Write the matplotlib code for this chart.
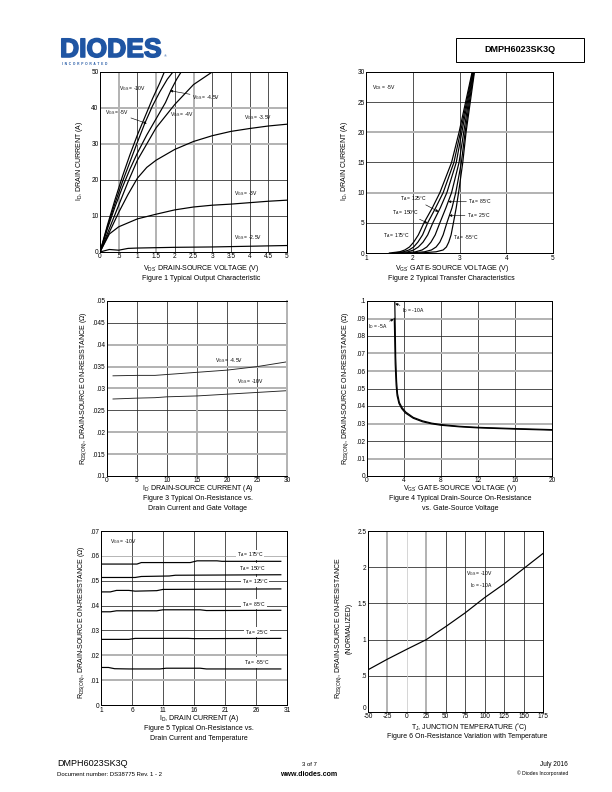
import matplotlib
matplotlib.use("Agg")
import matplotlib.pyplot as plt
import matplotlib.patheffects as pe
from matplotlib.patches import Rectangle

plt.rcParams["font.family"] = ["Liberation Sans", "DejaVu Sans"]
plt.rcParams["mathtext.default"] = "regular"
plt.rcParams["axes.unicode_minus"] = False

W, H = 612, 792

# ---------------- data ----------------
# Figure 1: output characteristic (VDS vs ID)
f1_curves = {
    "-10V": ([0, .2, .4, .6, .8, 1.0, 1.2, 1.4, 1.6, 1.72],
             [0, 7.5, 14.5, 21, 27, 32.5, 37.5, 42.5, 47, 50]),
    "-5V": ([0, .2, .4, .6, .8, 1.0, 1.2, 1.4, 1.6, 1.8, 1.95],
            [0, 7, 13.5, 19.5, 25, 30.5, 35.8, 40.5, 44.5, 48, 50]),
    "-4.5V": ([0, .2, .4, .6, .8, 1.0, 1.25, 1.5, 1.75, 1.9, 2.05, 2.17],
              [0, 6.5, 12.5, 18, 23, 27.5, 32.5, 37, 41.5, 45, 48, 50]),
    "-4V": ([0, .25, .5, .75, 1, 1.5, 2, 2.5, 3],
            [0, 6.5, 13, 19.5, 25.5, 34.5, 41, 46.5, 50]),
    "-3.5V": ([0, .25, .5, .75, 1, 1.25, 1.5, 2, 2.5, 3, 3.5, 4, 4.5, 5],
              [0, 5.5, 11, 16, 20.5, 23.5, 25.5, 28.5, 30.7, 32.3, 33.5, 34.3, 35, 35.5]),
    "-3V": ([0, .25, .5, 1, 1.5, 2, 2.5, 3, 3.5, 4, 4.5, 5],
            [0, 5, 7, 9.2, 10.5, 11.7, 12.5, 13, 13.3, 13.7, 14.1, 14.4]),
    "-2.5V": ([0, .25, .5, .75, 1, 2, 3, 4, 5],
              [0, 0.7, 0.5, 1.0, 1.1, 1.3, 1.4, 1.6, 1.8]),
}

# Figure 2: transfer characteristic (VGS vs ID)
f2_id = [0, 0.2, 0.5, 1.0, 1.8, 3.0, 5, 7.5, 10, 15, 20, 25, 30]
f2_curves = {
    "175": [1.50, 1.72, 1.83, 1.93, 2.02, 2.12, 2.24, 2.42, 2.58, 2.83, 2.99, 3.13, 3.27],
    "150": [1.58, 1.80, 1.92, 2.02, 2.11, 2.21, 2.32, 2.49, 2.65, 2.88, 3.02, 3.15, 3.28],
    "125": [1.66, 1.90, 2.02, 2.12, 2.22, 2.32, 2.43, 2.59, 2.73, 2.93, 3.05, 3.17, 3.29],
    "85": [1.80, 2.06, 2.20, 2.30, 2.39, 2.48, 2.58, 2.71, 2.83, 2.99, 3.09, 3.19, 3.30],
    "25": [1.95, 2.25, 2.40, 2.50, 2.58, 2.65, 2.73, 2.84, 2.92, 3.04, 3.12, 3.21, 3.31],
    "-55": [2.15, 2.50, 2.65, 2.72, 2.77, 2.82, 2.87, 2.93, 2.98, 3.07, 3.14, 3.23, 3.32],
}

# Figure 3: RDS(on) vs ID for two gate voltages
f3_id = [1, 5, 8, 10, 15, 20, 25, 30]
f3_r45 = [.0329, .0330, .0330, .0332, .0337, .0342, .0350, .0361]
f3_r10 = [.0276, .0278, .0279, .0281, .0283, .0287, .0291, .0295]

# Figure 4: RDS(on) vs VGS
f4_v10 = [3.0, 3.05, 3.1, 3.2, 3.3, 3.5, 3.8, 4.2, 5, 6, 7, 8, 10, 12, 16, 20]
f4_r10 = [.1, .085, .068, .054, .047, .042, .039, .0365, .0335, .0315, .0302,
          .0294, .0284, .0278, .0271, .0265]
f4_v5 = [2.95, 3.0, 3.05, 3.15, 3.25, 3.45, 3.75, 4.15, 5, 6, 7, 8, 10, 12, 16, 20]
f4_r5 = [.09, .078, .064, .052, .046, .0415, .0385, .036, .033, .031, .0298,
         .029, .0281, .0275, .0268, .0262]

# Figure 5: RDS(on) vs ID at temperatures
f5_curves = {
    "175": ([1, 6.8, 7.5, 15.4, 16.5, 19.7, 20.5, 30],
            [.0567, .0567, .0573, .0573, .0580, .0580, .0578, .0578]),
    "150": ([1, 6.5, 7.5, 12, 13, 30],
            [.0513, .0513, .0517, .0519, .0522, .0524]),
    "125": ([1, 2.5, 3.5, 5.5, 6.5, 10, 11, 30],
            [.0455, .0455, .0461, .0461, .0458, .0460, .0465, .0467]),
    "85": ([1, 2.5, 3.5, 10, 11, 17, 18, 30],
           [.0375, .0375, .0379, .0379, .0383, .0383, .0380, .0381]),
    "25": ([1, 5.5, 6.5, 15, 16, 30],
           [.0264, .0264, .0268, .0268, .0267, .0268]),
    "-55": ([1, 2.2, 3.2, 5.5, 10.5, 11.5, 17, 18, 30],
            [.0151, .0151, .0146, .0145, .0145, .0148, .0148, .0145, .0145]),
}

# Figure 6: normalized RDS(on) vs junction temperature
f6_t = [-50, -25, 0, 25, 50, 75, 100, 125, 150, 175]
f6_r = [0.583, 0.73, 0.867, 1.0, 1.18, 1.37, 1.58, 1.77, 1.98, 2.19]

# ---------------- helpers ----------------
fig = plt.figure(figsize=(W / 72, H / 72), dpi=72)
fig.patch.set_facecolor("white")

DARK = "#2b2b2b"
LIGHT = "#b4b4b4"


def make_ax(left, right, top, bottom):
    ax = fig.add_axes([left / W, 1 - bottom / H, (right - left) / W, (bottom - top) / H])
    for s in ax.spines.values():
        s.set_linewidth(1.0)
        s.set_color("black")
    ax.tick_params(length=0, labelsize=6.5, pad=1.5)
    return ax


def grid(ax, vdark=(), vlight=(), hdark=(), hlight=()):
    for v in vlight:
        ax.axvline(v, color=LIGHT, lw=2.0, zorder=0)
    for v in vdark:
        ax.axvline(v, color=DARK, lw=0.8, zorder=0)
    for h in hlight:
        ax.axhline(h, color=LIGHT, lw=2.0, zorder=0)
    for h in hdark:
        ax.axhline(h, color=DARK, lw=0.8, zorder=0)


def ftext(x, y, s, **kw):
    kw.setdefault("fontsize", 7)
    fig.text(x / W, 1 - y / H, s, **kw)


ARW = dict(arrowstyle="-|>", lw=0.6, color="black", mutation_scale=5,
           shrinkA=0, shrinkB=0)
LBL = 5

# ---------------- header ----------------
ftext(60, 57, "DIODES", fontsize=26.5, fontweight="bold", color="#1f55a3",
      va="baseline", ha="left",
      path_effects=[pe.withStroke(linewidth=1.6, foreground="#1f55a3")])
ftext(164, 57, "®", fontsize=4, color="#1f55a3", va="baseline")
ftext(62, 64, "I  N  C  O  R  P  O  R  A  T  E  D", fontsize=3.3,
      fontweight="bold", color="#1f55a3", va="center")
fig.patches.append(Rectangle((456 / W, 1 - 62 / H), 128 / W, 24 / H,
                             transform=fig.transFigure, fill=False,
                             edgecolor="black", lw=1.0))
ftext(520, 50, "DMPH6023SK3Q", fontsize=9, fontweight="bold",
      ha="center", va="center")

# ---------------- Figure 1 ----------------
ax = make_ax(100, 287, 72, 252)
grid(ax, vdark=[1, 2, 3, 3.5, 4, 4.5], vlight=[.5, 1.5, 2.5],
     hdark=[10, 20], hlight=[30, 40])
for xs, ys in f1_curves.values():
    ax.plot(xs, ys, color="black", lw=1.2)
ax.set_xlim(0, 5)
ax.set_ylim(0, 50)
ax.set_xticks([0, .5, 1, 1.5, 2, 2.5, 3, 3.5, 4, 4.5, 5])
ax.set_xticklabels(["0", ".5", "1", "1.5", "2", "2.5", "3", "3.5", "4", "4.5", "5"])
ax.set_yticks([0, 10, 20, 30, 40, 50])
ax.text(0.52, 45.4, "V$_{GS}$ = -10V", fontsize=LBL, va="center")
ax.annotate("V$_{GS}$ = -5V", xy=(1.25, 35.7), xytext=(0.13, 38.6),
            fontsize=LBL, va="center", arrowprops=ARW)
ax.annotate("V$_{GS}$ = -4.5V", xy=(1.875, 44.8), xytext=(2.46, 43.0),
            fontsize=LBL, va="center", arrowprops=ARW)
ax.text(1.875, 38.2, "V$_{GS}$ = -4V", fontsize=LBL, va="center")
ax.text(3.84, 37.3, "V$_{GS}$ = -3.5V", fontsize=LBL, va="center")
ax.text(3.57, 16.2, "V$_{GS}$ = -3V", fontsize=LBL, va="center")
ax.text(3.57, 4.0, "V$_{GS}$ = -2.5V", fontsize=LBL, va="center")
ftext(79, 161, "I$_D$, DRAIN CURRENT (A)", rotation=90, ha="center", va="center")
ftext(201, 268, "V$_{DS'}$ DRAIN-SOURCE VOLTAGE (V)", ha="center", va="center")
ftext(201, 278, "Figure 1 Typical Output Characteristic", ha="center", va="center")

# ---------------- Figure 2 ----------------
ax = make_ax(366, 553, 72, 253)
grid(ax, vdark=[2, 3, 4], hdark=[5, 15, 25], hlight=[10, 20])
for vs in f2_curves.values():
    ax.plot(vs, f2_id, color="black", lw=1.2)
ax.set_xlim(1, 5)
ax.set_ylim(0, 30)
ax.set_xticks([1, 2, 3, 4, 5])
ax.set_yticks([0, 5, 10, 15, 20, 25, 30])
ax.text(1.13, 27.4, "V$_{DS}$ = -5V", fontsize=LBL, va="center")
ax.annotate("T$_A$ = 125°C", xy=(2.55, 6.85), xytext=(1.73, 9.05),
            fontsize=LBL, va="center", arrowprops=ARW)
ax.annotate("T$_A$ = 150°C", xy=(2.31, 5.0), xytext=(1.56, 6.66),
            fontsize=LBL, va="center", arrowprops=ARW)
ax.text(1.36, 2.95, "T$_A$ = 175°C", fontsize=LBL, va="center")
ax.annotate("T$_A$ = 85°C", xy=(2.76, 8.5), xytext=(3.19, 8.5),
            fontsize=LBL, va="center", arrowprops=ARW)
ax.annotate("T$_A$ = 25°C", xy=(2.78, 6.2), xytext=(3.16, 6.27),
            fontsize=LBL, va="center", arrowprops=ARW)
ax.text(2.86, 2.56, "T$_A$ = -55°C", fontsize=LBL, va="center")
ftext(345, 161, "I$_D$, DRAIN CURRENT (A)", rotation=90, ha="center", va="center")
ftext(452, 268, "V$_{GS'}$ GATE-SOURCE VOLTAGE (V)", ha="center", va="center")
ftext(451, 278, "Figure 2 Typical Transfer Characteristics", ha="center", va="center")

# ---------------- Figure 3 ----------------
ax = make_ax(107, 287, 301, 476)
grid(ax, vdark=[5, 10, 15, 20, 25], hdark=[.045, .025],
     hlight=[.04, .035, .03, .02, .015])
ax.axvline(15, ymin=0, ymax=0.5, color=LIGHT, lw=2.0, zorder=0)
ax.spines["right"].set_color(LIGHT)
ax.spines["right"].set_linewidth(2.0)
ax.plot(f3_id, f3_r45, color="#222222", lw=0.9)
ax.plot(f3_id, f3_r10, color="#222222", lw=0.9)
ax.set_xlim(0, 30)
ax.set_ylim(.01, .05)
ax.set_xticks([0, 5, 10, 15, 20, 25, 30])
ax.set_yticks([.01, .015, .02, .025, .03, .035, .04, .045, .05])
ax.set_yticklabels([".01", ".015", ".02", ".025", ".03", ".035", ".04", ".045", ".05"])
ax.text(18.0, .0363, "V$_{GS}$ = -4.5V", fontsize=LBL, va="center")
ax.text(21.6, .0317, "V$_{GS}$ = -10V", fontsize=LBL, va="center")
ftext(84, 388, "R$_{DS(ON)}$, DRAIN-SOURCE ON-RESISTANCE (Ω)", rotation=90,
      ha="center", va="center")
ftext(198, 489, "I$_{D'}$ DRAIN-SOURCE CURRENT (A)", ha="center", va="center")
ftext(198, 498, "Figure 3 Typical On-Resistance vs.", ha="center", va="center")
ftext(198, 508, "Drain Current and Gate Voltage", ha="center", va="center")

# ---------------- Figure 4 ----------------
ax = make_ax(367, 552, 301, 476)
grid(ax, vdark=[4, 8, 12, 16], hdark=[.02, .04, .05, .08],
     hlight=[.01, .03, .06, .07, .09])
ax.plot(f4_v5, f4_r5, color="black", lw=1.2)
ax.plot(f4_v10, f4_r10, color="black", lw=1.2)
ax.set_xlim(0, 20)
ax.set_ylim(0, .1)
ax.set_xticks([0, 4, 8, 12, 16, 20])
ax.set_yticks([0, .01, .02, .03, .04, .05, .06, .07, .08, .09, .1])
ax.set_yticklabels(["0", ".01", ".02", ".03", ".04", ".05", ".06", ".07",
                    ".08", ".09", ".1"])
ax.annotate("I$_D$ = -10A", xy=(3.06, .0985), xytext=(3.78, .0947),
            fontsize=LBL, va="center", arrowprops=ARW)
ax.annotate("I$_D$ = -5A", xy=(2.88, .0896), xytext=(0.1, .0852),
            fontsize=LBL, va="center", arrowprops=ARW)
ftext(346, 388, "R$_{DS(ON)}$, DRAIN-SOURCE ON-RESISTANCE (Ω)", rotation=90,
      ha="center", va="center")
ftext(460, 489, "V$_{GS'}$ GATE-SOURCE VOLTAGE (V)", ha="center", va="center")
ftext(460, 498, "Figure 4 Typical Drain-Source On-Resistance", ha="center", va="center")
ftext(460, 508, "vs. Gate-Source Voltage", ha="center", va="center")

# ---------------- Figure 5 ----------------
ax = make_ax(101, 287, 531, 705)
grid(ax, vdark=[6, 11, 16, 21, 26], hdark=[.03, .04, .05], hlight=[.01, .02])
ax.axhline(.06, color="#999999", lw=0.7, zorder=0)
for xs, ys in f5_curves.values():
    ax.plot(xs, ys, color="black", lw=1.2)
ax.set_xlim(1, 31)
ax.set_ylim(0, .07)
ax.set_xticks([1, 6, 11, 16, 21, 26, 31])
ax.set_yticks([0, .01, .02, .03, .04, .05, .06, .07])
ax.set_yticklabels(["0", ".01", ".02", ".03", ".04", ".05", ".06", ".07"])
bb = dict(facecolor="white", edgecolor="none", pad=0.6)
ax.text(2.5, .0656, "V$_{GS}$ = -10V", fontsize=LBL, va="center")
f5_lbl = [(22.9, .0605, "175"), (23.2, .0549, "150"), (23.7, .0495, "125"),
          (23.7, .0406, "85"), (24.2, .0292, "25"), (24.0, .0171, "-55")]
for lx, ly, t in f5_lbl:
    ax.text(lx, ly, "T$_A$ = " + t + "°C", fontsize=LBL, va="center", bbox=bb)
ftext(82, 622, "R$_{DS(ON)}$, DRAIN-SOURCE ON-RESISTANCE (Ω)", rotation=90,
      ha="center", va="center")
ftext(199, 719, "I$_D$, DRAIN CURRENT (A)", ha="center", va="center")
ftext(199, 728, "Figure 5 Typical On-Resistance vs.", ha="center", va="center")
ftext(199, 738, "Drain Current and Temperature", ha="center", va="center")

# ---------------- Figure 6 ----------------
ax = make_ax(368, 543, 531, 712)
grid(ax, vdark=[50, 75, 100, 125, 150], vlight=[-25, 25],
     hdark=[.5, 1, 1.5, 2])
ax.axvline(0, color="#cccccc", lw=0.8, zorder=0)
ax.plot(f6_t, f6_r, color="black", lw=1.2)
ax.set_xlim(-50, 175)
ax.set_ylim(0, 2.5)
ax.set_xticks([-50, -25, 0, 25, 50, 75, 100, 125, 150, 175])
ax.set_yticks([0, .5, 1, 1.5, 2, 2.5])
ax.set_yticklabels(["0", ".5", "1", "1.5", "2", "2.5"])
ax.get_yticklabels()[0].set_va("bottom")
ax.text(76.5, 1.91, "V$_{GS}$ = -10V", fontsize=LBL, va="center")
ax.text(80.8, 1.74, "I$_D$ = -10A", fontsize=LBL, va="center")
ftext(339, 628, "R$_{DS(ON)}$, DRAIN-SOURCE ON-RESISTANCE", rotation=90,
      ha="center", va="center")
ftext(349, 628, "(NORMALIZED)", rotation=90, ha="center", va="center")
ftext(469, 727, "T$_J$, JUNCTION TEMPERATURE (˚C)", ha="center", va="center")
ftext(467, 737, "Figure 6 On-Resistance Variation with Temperature",
      ha="center", va="center")

# ---------------- footer ----------------
ftext(57, 764, "DMPH6023SK3Q", fontsize=9, va="center")
ftext(57, 774, "Document number: DS38775 Rev. 1 - 2", fontsize=6, va="center")
ftext(309, 764, "3 of 7", fontsize=6, ha="center", va="center")
ftext(309, 774, "www.diodes.com", fontsize=7, fontweight="bold",
      ha="center", va="center")
ftext(568, 764, "July 2016", fontsize=6.5, ha="right", va="center")
ftext(568, 773, "© Diodes Incorporated", fontsize=5, ha="right", va="center")

fig.savefig("out.png", dpi=72, facecolor="white")
